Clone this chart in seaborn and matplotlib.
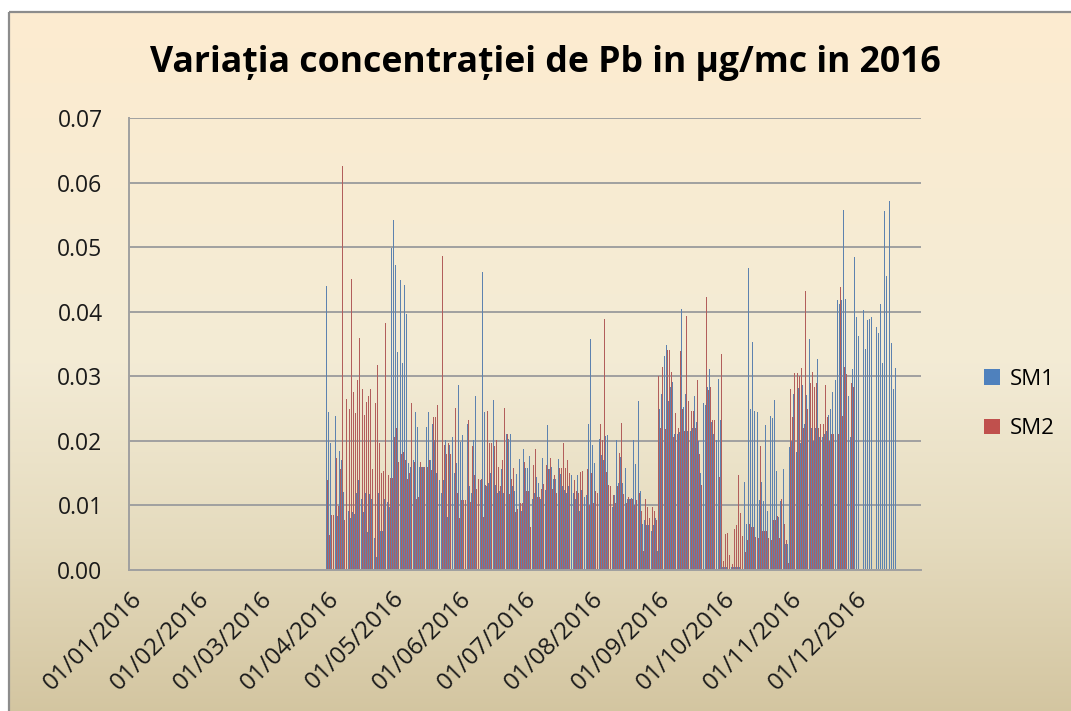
import numpy as np
import pandas as pd
import matplotlib
matplotlib.use("Agg")
import matplotlib.pyplot as plt
import seaborn as sns
from matplotlib.patches import Rectangle, Patch
from matplotlib.ticker import FormatStrFormatter

# ---------------- data (daily values, µg/mc) ----------------
year_start = "2016-01-01"
year_end = "2016-12-31"
first_data_day = "2016-04-01"
series_names = ["SM1", "SM2"]

sm1_apr = [.044, .0245, .0197, .0267, .0239, .0084, .0184, .017, .0121, .008,
           .0091, .008, .009, .0087, .012, .014, .011, .009, .012, .0059,
           .0118, .011, .0049, .002, .012, .0061, .0061, .011, .0105, .0098]
sm2_apr = [.0139, .0054, .0085, .0085, .0174, .0099, .0156, .0625, .0078, .0265,
           .0249, .045, .0275, .0243, .0295, .036, .028, .024, .026, .027,
           .028, .0156, .0258, .0317, .0197, .015, .0154, .0383, .0147, .0143]

sm1_may = [.0498, .0542, .0472, .0338, .0449, .0321, .0441, .0397, .0166, .016,
           .017, .0245, .0221, .016, .016, .016, .0221, .0245, .017, .0226,
           .0201, .015, .0139, .012, .014, .0201, .0082, .0193, .0206, .015, .0165]
sm2_may = [.0143, .0206, .022, .0167, .018, .0183, .017, .0141, .015, .0258,
           .0167, .011, .0113, .0167, .016, .016, .016, .017, .0155, .0237,
           .0237, .0255, .0258, .0486, .0193, .018, .0197, .018, .0251, .0251, .012]

sm1_jun = [.0287, .0198, .0209, .0329, .0226, .013, .012, .0201, .027, .0139,
           .0139, .0462, .0244, .013, .0134, .015, .0264, .0131, .012, .0122,
           .0156, .012, .021, .0203, .0211, .013, .0123, .0148, .0172, .0092]
sm2_jun = [.008, .0108, .0108, .0108, .0233, .0105, .0192, .0147, .0126, .0141,
           .0141, .0082, .0131, .0247, .0197, .0197, .0192, .0201, .016, .013,
           .017, .0251, .021, .0118, .0141, .0158, .009, .0095, .0103, .0103]

sm1_jul = [.0188, .0158, .0158, .0176, .011, .012, .0144, .0135, .011, .0174,
           .0124, .0224, .0157, .016, .0141, .0141, .0172, .0148, .013, .0124,
           .012, .013, .0147, .012, .011, .0147, .0092, .0124, .0113, .0116, .0226]
sm2_jul = [.0167, .0123, .0123, .0067, .0162, .0187, .0113, .0113, .0125, .0133,
           .0162, .0157, .0174, .0126, .0147, .012, .0158, .0158, .0196, .0158,
           .017, .015, .013, .0139, .0122, .012, .0152, .0153, .0166, .0156, .01]

sm1_aug = [.0358, .0193, .0166, .0152, .0203, .0178, .017, .0208, .0209, .0123,
           .0097, .0116, .0201, .0134, .0175, .0134, .0158, .011, .011, .0112,
           .0201, .0164, .0261, .0123, .0071, .0077, .007, .0069, .006, .007, .008]
sm2_aug = [.015, .0103, .0123, .012, .0226, .0201, .0388, .0152, .0131, .013,
           .0116, .0104, .013, .0181, .0228, .0118, .0103, .0113, .011, .011,
           .01, .0108, .012, .0091, .003, .011, .0097, .0081, .0097, .0092, .0077]

sm1_sep = [.003, .025, .0272, .0331, .0349, .0262, .0283, .0291, .021, .0211,
           .0214, .0404, .0253, .0273, .0216, .0215, .022, .0269, .0229, .02,
           .015, .0258, .0255, .0284, .0311, .0229, .021, .0201, .0296, .0232]
sm2_sep = [.03, .022, .0314, .0219, .0341, .0341, .0307, .0206, .0243, .022,
           .0339, .025, .0215, .0393, .0262, .0247, .0247, .022, .0294, .018,
           .0131, .02, .0423, .0278, .0283, .0233, .0233, .0167, .0144, .0335]

sm1_oct = [.0005, .0005, .0005, .0005, .0005, .0005, .0005, .0005, .0005, .0255,
           .0136, .0072, .0468, .025, .0353, .0247, .0245, .0109, .0136, .0107,
           .0224, .0091, .0238, .0236, .0264, .0154, .0082, .0107, .0156, .004, .0041]
sm2_oct = [.0014, .0055, .0057, .0023, .001, .0063, .0069, .0147, .0089, .0052,
           .0028, .0047, .0072, .0067, .0067, .0051, .005, .0192, .0061, .006,
           .006, .005, .0046, .0077, .0077, .0083, .005, .011, .0072, .0046, .0011]

sm1_nov = [.019, .02, .0273, .0183, .0282, .0196, .0287, .0226, .0271, .0357,
           .022, .02, .022, .0327, .0206, .0206, .021, .0215, .024, .025,
           .0275, .0294, .0418, .0412, .0418, .0557, .042, .0269, .0206, .0311]
sm2_nov = [.0281, .0237, .0305, .0305, .03, .0313, .022, .0432, .025, .0289,
           .0307, .0283, .0289, .022, .0226, .0226, .0287, .0237, .02, .021,
           .021, .011, .021, .0438, .0238, .0314, .0303, .027, .0289, .0283]

sm1_dec = [.0484, .0392, .0362, .0406, .0402, .0343, .0387, .0389, .0392, .0404,
           .0376, .0367, .0412, .0321, .0556, .0456, .0572, .0351, .0281, .0313]
sm2_dec = []

y_ticks = [0.00, 0.01, 0.02, 0.03, 0.04, 0.05, 0.06, 0.07]
title = "Variația concentrației de Pb in µg/mc in 2016"

# ---------------- build table ----------------
days = pd.date_range(year_start, year_end, freq="D")
day_labels = [d.strftime("%d/%m/%Y") for d in days]
start_idx = int((pd.Timestamp(first_data_day) - days[0]).days)

sm1_all = sum([sm1_apr, sm1_may, sm1_jun, sm1_jul, sm1_aug, sm1_sep, sm1_oct, sm1_nov, sm1_dec], [])
sm2_all = sum([sm2_apr, sm2_may, sm2_jun, sm2_jul, sm2_aug, sm2_sep, sm2_oct, sm2_nov, sm2_dec], [])

rows = []
for name, vals in zip(series_names, [sm1_all, sm2_all]):
    for i, v in enumerate(vals):
        rows.append({"date": day_labels[start_idx + i], "series": name, "value": v})
df = pd.DataFrame(rows)

month_starts = [i for i, d in enumerate(days) if d.day == 1]
month_labels = [day_labels[i] for i in month_starts]

# ---------------- figure ----------------
W, H = 1071, 711
fig = plt.figure(figsize=(W / 100, H / 100), dpi=100)
fig.patch.set_facecolor("white")
plt.rcParams["font.family"] = ["Open Sans", "DejaVu Sans"]

# background gradient (chart area)
bg = fig.add_axes([0, 0, 1, 1], zorder=-10)
bg.axis("off")
stops_pos = [0.0, 0.5, 0.75, 1.0]
stops_col = np.array([[253, 236, 208], [243, 235, 213], [229, 219, 190], [211, 197, 160]]) / 255.0
ys = np.linspace(0, 1, 400)
grad = np.stack([np.interp(ys, stops_pos, stops_col[:, k]) for k in range(3)], axis=1)
grad = np.repeat(grad[:, None, :], 2, axis=1)
bg.imshow(grad, extent=(9, W + 5, H + 5, 12), aspect="auto", interpolation="bilinear")
bg.add_patch(Rectangle((9, 12), W + 20, H + 20, fill=False, edgecolor="#8c8c8c", linewidth=1.6))
bg.set_xlim(0, W)
bg.set_ylim(H, 0)

ax = fig.add_axes([129 / W, 1 - 570 / H, (921 - 129) / W, (570 - 118) / H])
ax.patch.set_visible(False)

palette = {"SM1": "#4F81BD", "SM2": "#C0504D"}
sns.barplot(data=df, x="date", y="value", hue="series", order=day_labels,
            hue_order=series_names, palette=palette, errorbar=None,
            width=0.9, dodge=True, linewidth=0, ax=ax, legend=False)

ax.set_xlim(-0.5, len(days) - 0.5)
ax.set_ylim(0, 0.07)
ax.set_yticks(y_ticks)
ax.yaxis.set_major_formatter(FormatStrFormatter("%.2f"))
ax.set_xticks(month_starts)
ax.set_xticklabels(month_labels, rotation=45, ha="right", rotation_mode="anchor",
                   fontsize=17.5, color="#1a1a1a")
ax.tick_params(axis="x", length=0, pad=12)
ax.tick_params(axis="y", length=0, pad=19, labelsize=16.5, labelcolor="#1a1a1a")
ax.set_xlabel("")
ax.set_ylabel("")
ax.yaxis.grid(True, color="#a0a0a0", linewidth=1.4)
ax.set_axisbelow(True)
for s in ["top", "right"]:
    ax.spines[s].set_visible(False)
for s in ["left", "bottom"]:
    ax.spines[s].set_color("#a0a0a0")
    ax.spines[s].set_linewidth(1.4)

fig.text(545 / W, 1 - 72 / H, title, ha="center", va="baseline",
         fontsize=25.7, fontweight="bold", color="black",
         family=["Open Sans", "DejaVu Sans"])

handles = [Patch(facecolor=palette[n], edgecolor="none") for n in series_names]
fig.legend(handles, series_names, loc="center left",
           bbox_to_anchor=(984 / W, 1 - 404 / H), frameon=False,
           borderpad=0, borderaxespad=0,
           handlelength=0.7, handleheight=0.7, handletextpad=0.45,
           labelspacing=1.3, fontsize=16)

fig.savefig("out.png", dpi=100, facecolor=fig.get_facecolor())
